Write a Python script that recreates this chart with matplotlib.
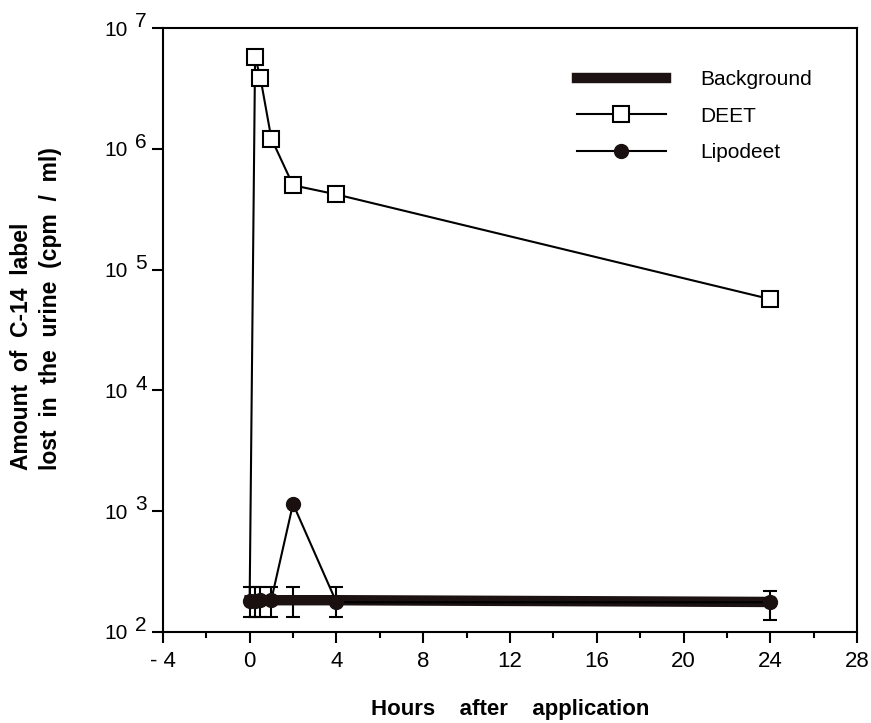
import numpy as np
from matplotlib import pyplot as plt
from matplotlib import transforms

plt.rcParams['font.family'] = ['Liberation Sans', 'DejaVu Sans']

# hours after application
hours = [0, 0.25, 0.5, 1, 2, 4, 24]

# cpm / ml
background = [183, 183, 183, 183, 183, 183, 177]
bg_err_low = [50, 50, 50, 50, 50, 50, 51]
bg_err_high = [52, 52, 52, 52, 52, 52, 41]
deet = [183, 5.8e6, 3.85e6, 1.22e6, 5.0e5, 4.2e5, 5.7e4]
lipodeet = [180, 180, 183, 185, 1150, 176, 176]

xticks = [-4, 0, 4, 8, 12, 16, 20, 24, 28]
xtick_labels = ['- 4', '0', '4', '8', '12', '16', '20', '24', '28']
yticks = [1e2, 1e3, 1e4, 1e5, 1e6, 1e7]
yexps = ['2', '3', '4', '5', '6', '7']

fig = plt.figure(figsize=(8.71, 7.23), dpi=100)
ax = fig.add_axes([0.187, 0.126, 0.797, 0.835])

ax.plot(hours, deet, color='black', lw=1.5, marker='s', ms=11,
        mfc='white', mec='black', mew=1.5, markevery=list(range(1, 7)),
        label='DEET', zorder=3)
ax.plot(hours, lipodeet, color='black', lw=1.5, marker='o', ms=10,
        mfc='#1a1010', mec='#1a1010', label='Lipodeet', zorder=4)
ax.errorbar(hours, background, yerr=[bg_err_low, bg_err_high], fmt='none',
            ecolor='black', elinewidth=1.5, capsize=5, capthick=1.5, zorder=2)
ax.plot(hours, background, color='#1c1212', lw=7.5,
        solid_capstyle='projecting', label='Background', zorder=3.5)

ax.set_yscale('log')
ax.set_ylim(1e2, 1e7)
ax.set_xlim(-4, 28)
ax.set_xticks(xticks)
ax.set_xticklabels(xtick_labels, fontsize=16)
ax.set_xticks(np.arange(-2, 28, 4), minor=True)
ax.set_yticks(yticks)
ax.set_yticklabels(['10'] * len(yticks), fontsize=15)
ax.yaxis.set_minor_locator(plt.NullLocator())
ax.tick_params(axis='x', which='major', direction='out', length=8, width=1.5, pad=6)
ax.tick_params(axis='x', which='minor', direction='out', length=4, width=1.5)
ax.tick_params(axis='y', which='major', direction='out', length=8, width=1.5, pad=17)
for s in ax.spines.values():
    s.set_linewidth(1.5)

# exponents, same size as the base, just raised
raise_ = transforms.ScaledTranslation(0, 4.5 / 72, fig.dpi_scale_trans)
for yv, e in zip(yticks, yexps):
    ax.text(-0.04, yv, e, fontsize=15, ha='left', va='center',
            transform=ax.get_yaxis_transform() + raise_, clip_on=False)

ax.set_xlabel('Hours    after    application', fontsize=16, fontweight='bold', labelpad=19)
ax.set_ylabel('Amount  of  C-14  label\nlost  in  the  urine  (cpm  /  ml)', fontsize=16.5,
              fontweight='bold', linespacing=1.3, multialignment='left')
ax.yaxis.set_label_coords(-0.146, 0.535)

h, l = ax.get_legend_handles_labels()
order = [2, 0, 1]
ax.legend([h[i] for i in order], [l[i] for i in order], loc='upper left',
          bbox_to_anchor=(0.569, 0.962), frameon=False, fontsize=15,
          handlelength=4.27, handletextpad=1.67, labelspacing=0.85)

plt.savefig('out.png', dpi=100)
